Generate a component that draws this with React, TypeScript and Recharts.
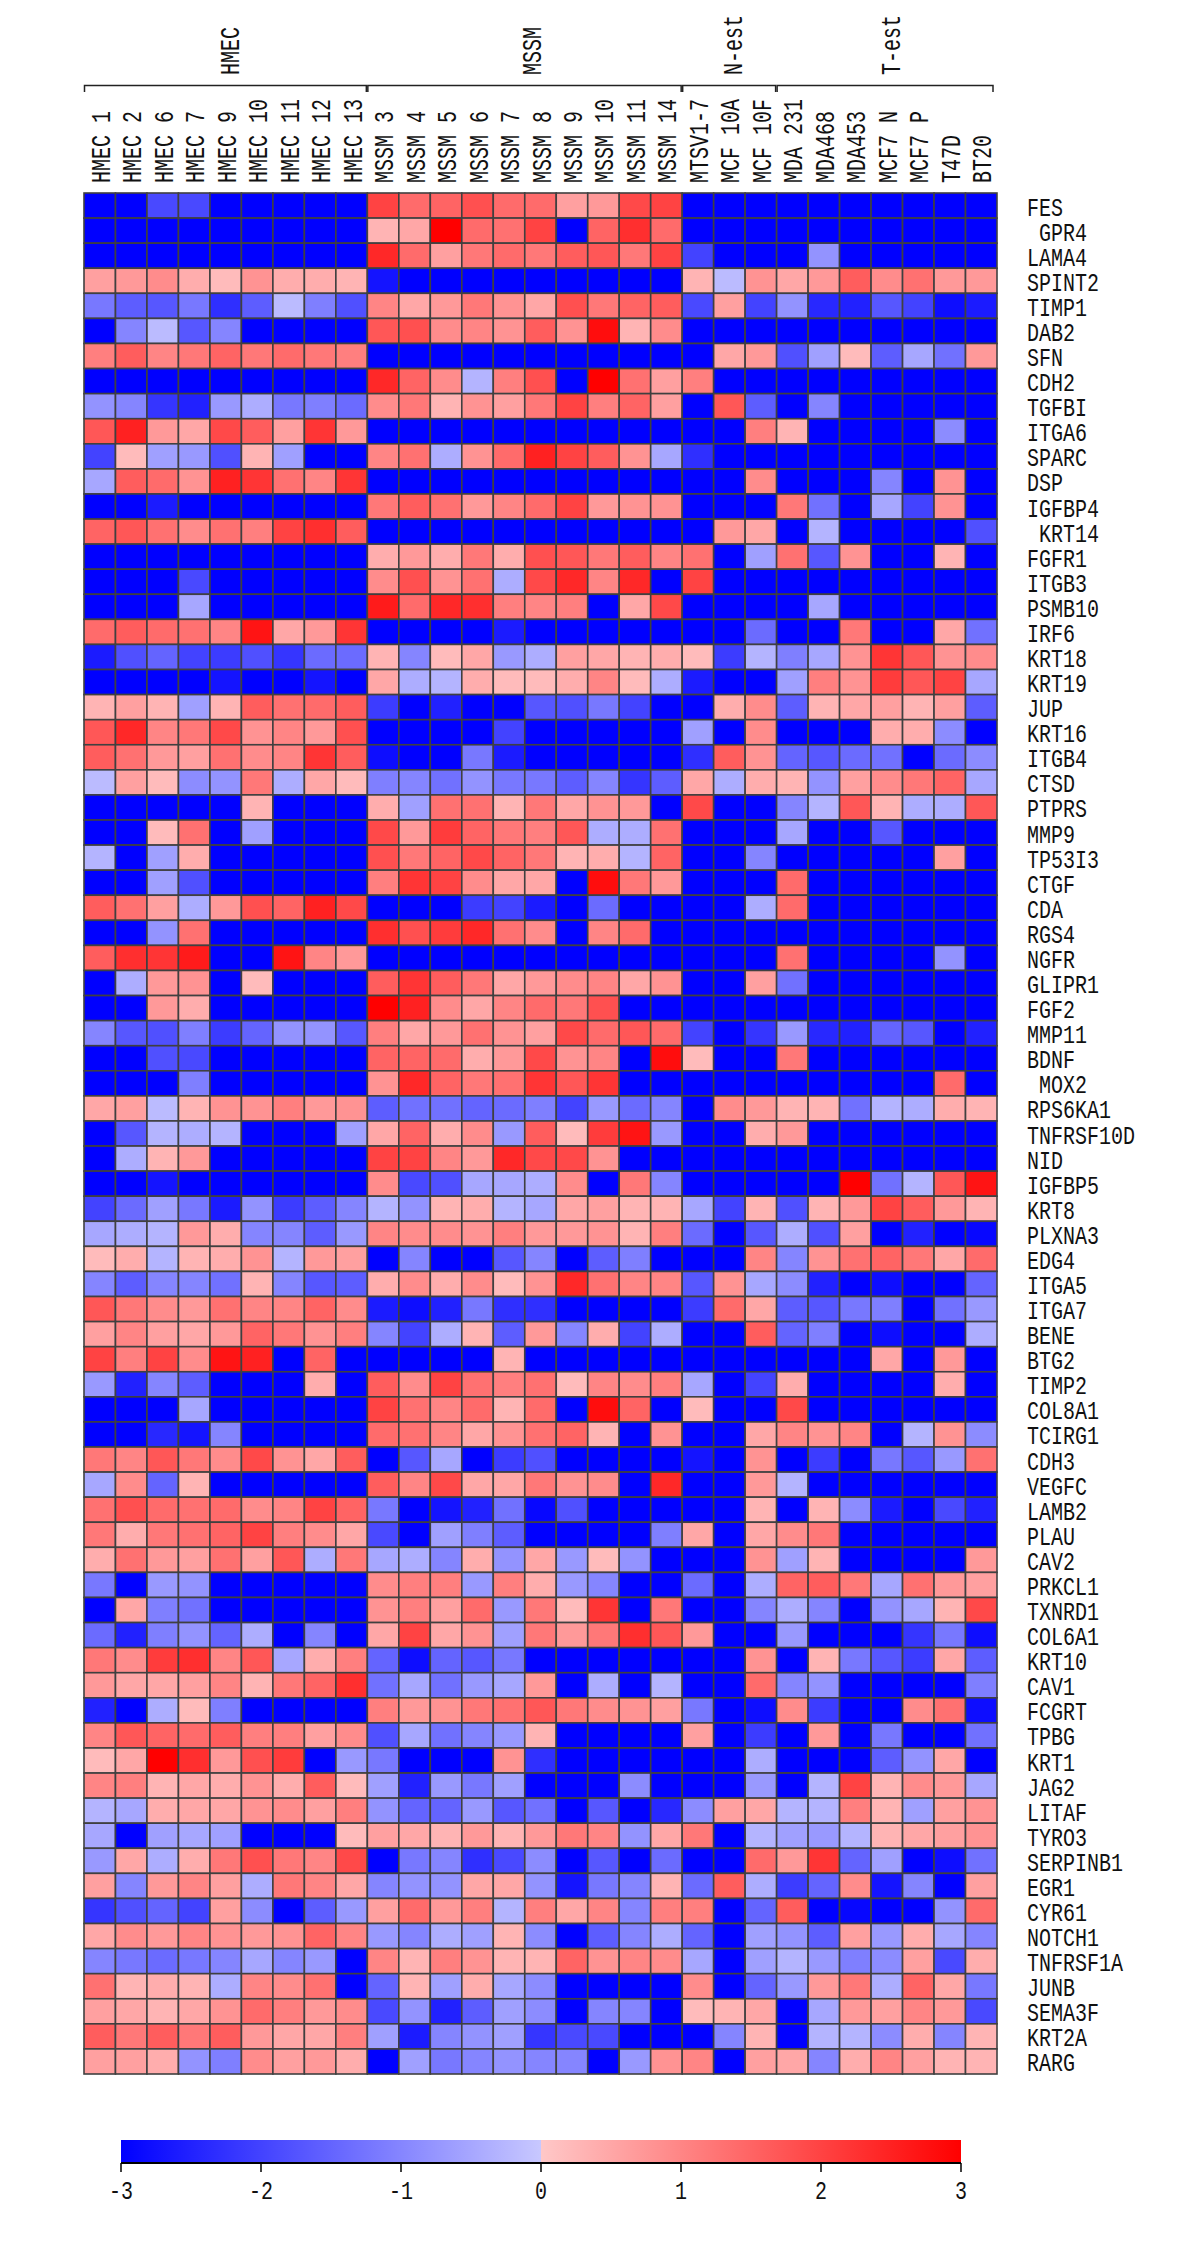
import React from 'react';
import { ScatterChart, Scatter, XAxis, YAxis, ReferenceArea } from 'recharts';

const sampleNames = [
  'HMEC 1', 'HMEC 2', 'HMEC 6', 'HMEC 7', 'HMEC 9', 'HMEC 10', 'HMEC 11', 'HMEC 12', 'HMEC 13',
  'MSSM 3', 'MSSM 4', 'MSSM 5', 'MSSM 6', 'MSSM 7', 'MSSM 8', 'MSSM 9', 'MSSM 10', 'MSSM 11', 'MSSM 14',
  'MTSV1-7', 'MCF 10A', 'MCF 10F',
  'MDA 231', 'MDA468', 'MDA453', 'MCF7 N', 'MCF7 P', 'T47D', 'BT20',
];

const groupNames = ['HMEC', 'MSSM', 'N-est', 'T-est'];
const groupSizes = [9, 10, 3, 7];

const geneNames = [
  'FES', ' GPR4', 'LAMA4', 'SPINT2', 'TIMP1', 'DAB2', 'SFN', 'CDH2', 'TGFBI', 'ITGA6',
  'SPARC', 'DSP', 'IGFBP4', ' KRT14', 'FGFR1', 'ITGB3', 'PSMB10', 'IRF6', 'KRT18', 'KRT19',
  'JUP', 'KRT16', 'ITGB4', 'CTSD', 'PTPRS', 'MMP9', 'TP53I3', 'CTGF', 'CDA', 'RGS4',
  'NGFR', 'GLIPR1', 'FGF2', 'MMP11', 'BDNF', ' MOX2', 'RPS6KA1', 'TNFRSF10D', 'NID', 'IGFBP5',
  'KRT8', 'PLXNA3', 'EDG4', 'ITGA5', 'ITGA7', 'BENE', 'BTG2', 'TIMP2', 'COL8A1', 'TCIRG1',
  'CDH3', 'VEGFC', 'LAMB2', 'PLAU', 'CAV2', 'PRKCL1', 'TXNRD1', 'COL6A1', 'KRT10', 'CAV1',
  'FCGRT', 'TPBG', 'KRT1', 'JAG2', 'LITAF', 'TYRO3', 'SERPINB1', 'EGR1', 'CYR61', 'NOTCH1',
  'TNFRSF1A', 'JUNB', 'SEMA3F', 'KRT2A', 'RARG',
];

// one row per gene, same order as geneNames; columns as in sampleNames
const expression = [
  [-3,-3,-1.9,-1.9,-3,-3,-3,-3,-3, 2,1.4,1.5,1.8,1.4,1.4,.6,.7,1.9,2, -3,-3,-3,-3,-3,-3,-3,-3,-3,-3],
  [-3,-3,-3,-3,-3,-3,-3,-3,-3, .3,.5,3,1.4,1.3,2,-3,1.5,2.3,1.4, -3,-3,-3,-3,-3,-3,-3,-3,-3,-3],
  [-3,-3,-3,-3,-3,-3,-3,-3,-3, 2.4,1.4,.6,1.2,1.4,1.2,1.6,1.7,1.2,2, -2,-3,-3,-3,-.8,-3,-3,-3,-3,-3],
  [.6,.7,.9,.4,.2,.8,.4,.4,.3, -2.7,-3,-3,-3,-3,-3,-3,-3,-3,-3, .3,-.2,.8,.5,.7,1.6,.9,1.3,.7,.7],
  [-1.2,-1.6,-1.7,-1.2,-2.3,-1.6,-.2,-1.1,-1.8, 1,.5,.7,1.2,.8,.5,1.8,1.2,1.5,1.6, -1.9,.6,-2,-.8,-2.4,-2.5,-1.7,-2,-2.8,-2.6],
  [-3,-1,-.2,-1.7,-1,-3,-3,-3,-3, 1.7,1.8,.9,1,.8,1.6,.8,2.8,.3,.9, -3,-3,-3,-3,-3,-3,-3,-3,-3,-3],
  [1.1,1.6,1,1.2,1.5,1.2,1.4,1.2,1.1, -3,-3,-3,-3,-3,-3,-3,-3,-3,-3, -3,.5,.7,-1.8,-.6,.2,-1.6,-.5,-1.3,.7],
  [-3,-3,-3,-3,-3,-3,-3,-3,-3, 2.4,1.5,.9,-.3,1.1,1.8,-3,3,1.3,.6, 1.1,-3,-3,-3,-3,-3,-3,-3,-3,-3],
  [-.8,-1,-2.2,-2.5,-.7,-.4,-1.2,-1.1,-1.4, .9,1.2,.3,.8,.6,1.2,2,1.1,1.5,.6, -3,1.7,-1.6,-3,-1,-3,-3,-3,-3,-3],
  [1.7,2.5,.7,.5,1.9,1.6,.6,2.2,.7, -3,-3,-3,-3,-3,-3,-3,-3,-3,-3, -3,-3,1.1,.3,-3,-3,-3,-3,-.9,-3],
  [-2,.2,-.6,-.7,-1.8,.3,-.6,-3,-3, 1,1.3,-.4,.8,1.4,2.5,2,1.6,.8,-.5, -2.3,-3,-3,-3,-3,-3,-3,-3,-3,-3],
  [-.5,1.6,1.4,.8,2.5,2.2,1.3,1,2.2, -3,-3,-3,-3,-3,-3,-3,-3,-3,-3, -3,-3,.9,-3,-3,-3,-1,-3,.8,-3],
  [-3,-3,-2.6,-3,-3,-3,-3,-3,-3, 1.2,1.6,1.3,.7,1,1.4,2,.7,.8,.8, -3,-3,-3,1.2,-1.3,-3,-.5,-2,.8,-3],
  [1.5,1.7,1.3,.9,1.3,1.1,2,2.3,1.6, -3,-3,-3,-3,-3,-3,-3,-3,-3,-3, -3,.7,.5,-3,-.3,-3,-3,-3,-3,-1.8],
  [-3,-3,-3,-3,-3,-3,-3,-3,-3, .4,.7,.4,1.2,.4,1.8,1.7,1.2,1.6,1, 1.3,-3,-.6,1.3,-1.7,.8,-3,-3,.3,-3],
  [-3,-3,-3,-1.9,-3,-3,-3,-3,-3, .9,1.8,.8,1.3,-.4,1.9,2.4,1,2.4,-3, 2,-3,-3,-3,-3,-3,-3,-3,-3,-3],
  [-3,-3,-3,-.5,-3,-3,-3,-3,-3, 2.6,1.4,2.4,2.3,1.1,1,1.1,-3,.5,1.9, -3,-3,-3,-3,-.5,-3,-3,-3,-3,-3],
  [1.4,1.6,1.4,1.3,1,2.7,.5,.7,2.2, -3,-3,-3,-3,-2.6,-3,-3,-3,-3,-3, -3,-3,-1.4,-3,-3,1.2,-3,-3,.5,-1.3],
  [-2.6,-1.8,-1.5,-2,-2.1,-1.8,-2.2,-1.4,-1.4, .3,-1,.2,.5,-.7,-.4,.6,.5,.3,.4, .2,-2.1,-.3,-1.1,-.5,.8,2.2,1.7,.8,.9],
  [-3,-3,-3,-3,-2.7,-3,-3,-2.7,-3, .5,-.4,-.3,.4,.2,.2,.4,1,.2,-.4, -2.6,-3,-3,-.6,1.1,.8,2.1,1.7,2,-.5],
  [.3,.6,.3,-.6,.3,1.6,1.3,1.4,1.6, -2.1,-3,-2.5,-3,-3,-1.7,-1.8,-1.2,-2,-3, -3,.4,.9,-1.6,.3,.5,.6,.3,.6,-1.6],
  [1.7,2.4,1,1.2,1.9,.8,1,.7,1.8, -3,-3,-3,-3,-2,-3,-3,-3,-3,-3, -.6,-3,.9,-3,-3,-3,.4,.4,-.9,-3],
  [1.6,1.3,.7,.6,1.3,.9,1,2.2,1.6, -2.8,-3,-3,-1.2,-2.6,-3,-3,-3,-3,-3, -2.3,1.6,.8,-1.5,-1.7,-1.4,-1.3,-3,-1.4,-.9],
  [-.2,.6,.2,-.9,-.8,1.2,-.4,.5,.2, -1.1,-1,-1.3,-.8,-1.2,-1.2,-1.6,-1,-2.2,-1.6, .5,-.4,.4,.3,-.8,.6,.9,1.2,1.5,-.5],
  [-3,-3,-3,-3,-3,.3,-3,-3,-3, .4,-.6,1.3,1.3,.3,1.2,.5,.8,.7,-3, 1.9,-3,-3,-1,-.3,1.7,.3,-.4,-.4,1.7],
  [-3,-3,.2,1.3,-3,-.6,-3,-3,-3, 1.9,.7,2.1,1.5,1.2,1.1,1.7,-.4,-.4,1.3, -3,-3,-3,-.5,-3,-3,-1.7,-3,-3,-3],
  [-.3,-3,-.6,.4,-3,-3,-3,-3,-3, 1.8,1.2,1.5,1.9,1.5,1.2,.3,.4,-.3,1.5, -3,-3,-1,-3,-3,-3,-3,-3,.6,-3],
  [-3,-3,-.6,-1.8,-3,-3,-3,-3,-3, 1.1,2.2,2,.9,.5,.5,-3,2.8,1.2,.7, -3,-3,-3,1.4,-3,-3,-3,-3,-3,-3],
  [1.6,1.3,.6,-.4,.7,1.8,1.5,2.5,1.9, -3,-3,-3,-2.1,-2,-2.6,-3,-1.4,-3,-3, -3,-3,-.4,1.4,-3,-3,-3,-3,-3,-3],
  [-3,-3,-.8,1.3,-3,-3,-3,-3,-3, 2.3,1.8,2.1,2.4,1.3,.9,-3,1,1.4,-3, -3,-3,-3,-3,-3,-3,-3,-3,-3,-3],
  [1.6,2.3,2.2,2.6,-3,-3,2.7,1,.7, -3,-3,-3,-3,-3,-3,-3,-3,-3,-3, -3,-3,-3,1.3,-3,-3,-3,-3,-.8,-3],
  [-3,-.4,.7,.8,-3,.2,-3,-3,-3, 1.6,2.2,1.6,1.2,.5,.7,.9,1,.5,.8, -3,-3,.6,-1.3,-3,-3,-3,-3,-3,-3],
  [-3,-3,.7,.4,-3,-3,-3,-3,-3, 3,2.5,.9,.5,1,1.4,1.2,1.8,-3,-3, -3,-3,-3,-3,-3,-3,-3,-3,-3,-3],
  [-1,-1.7,-1.8,-1.1,-2.1,-1.5,-.8,-.8,-1.7, 1.1,.5,.7,1.3,.8,.6,1.9,1.4,1.7,1.4, -2,-3,-2.2,-.7,-2.4,-2.5,-1.5,-1.7,-3,-2.5],
  [-3,-3,-1.8,-1.9,-3,-3,-3,-3,-3, 1.5,1.5,1.4,.4,.7,1.9,.8,1,-3,2.8, .2,-3,-3,1.2,-3,-3,-3,-3,-3,-3],
  [-3,-3,-3,-1.1,-3,-3,-3,-3,-3, .8,2.4,1.5,1.2,1.3,2.2,1.7,2.2,-3,-3, -3,-3,-3,-3,-3,-3,-3,-3,1.4,-3],
  [.5,.6,-.2,.3,.8,.8,1.1,.7,.8, -1.6,-1.3,-1.3,-1.5,-1.4,-1.1,-2,-.7,-1.4,-1, -3,.9,.7,.3,.3,-1.3,-.3,-.4,.4,.3],
  [-3,-1.7,-.3,-.4,-.3,-3,-3,-3,-.6, .5,1.5,.4,.9,-.7,1.6,.2,2.1,2.7,-.7, -3,-3,.4,.7,-3,-3,-3,-3,-3,-3],
  [-3,-.4,.3,.7,-3,-3,-3,-3,-3, 2,2,1,.7,2.4,1.9,1.9,.8,-3,-3, -3,-3,-3,-3,-3,-3,-3,-3,-3,-3],
  [-3,-3,-2.7,-3,-3,-3,-3,-3,-3, .9,-1.9,-1.8,-.5,-.5,-.4,.9,-3,1.2,-1, -3,-3,-3,-3,-3,3,-1.3,-.3,1.7,2.7],
  [-2,-1.4,-.6,-1.2,-2.6,-.8,-2.1,-1.6,-1, -.3,-.8,.3,.4,-.3,-.5,.5,.6,.3,.3, -.5,-2,.3,-1.8,.3,.7,2,1.6,.7,.3],
  [-.5,-.4,-.3,.7,.4,-1,-1,-1.6,-.7, 1,.9,.9,.8,1.1,.7,.7,.8,.3,1.1, -1.4,-3,-1.7,-.4,-1.8,.6,-3,-2.5,-3,-2.9],
  [.2,.4,-.3,.3,.4,.8,-.3,.7,.6, -3,-1,-3,-3,-1.7,-1,-3,-1.6,-1.1,-3, -3,-3,1,-1,.8,1.3,1.5,1.2,.5,1.4],
  [-1,-1.6,-1,-1,-1.3,.3,-1,-1.7,-1.6, .4,.9,.4,.9,.2,.8,2.4,1.3,1,1, -1.7,.8,-.5,-.9,-2.5,-3,-2.8,-3,-3,-1.5],
  [1.7,1.2,.9,.7,1.3,1,1,1.5,.9, -2.6,-2.8,-2.5,-1.2,-2.3,-2.3,-3,-3,-3,-3, -2.1,1.4,.5,-1.6,-1.7,-1.2,-1.1,-3,-1.3,-.7],
  [.6,1,.6,.5,.7,1.5,1.2,.8,1.1, -1,-2,-.4,.3,-1.6,.7,-1,.4,-2,-.4, -3,-3,1.6,-1.5,-1.1,-3,-2.8,-3,-3,-.4],
  [2,1.1,2,.9,2.7,2.5,-3,1.5,-3, -3,-3,-3,-3,.3,-3,-3,-3,-3,-3, -3,-3,-3,-3,-3,-3,.5,-3,.7,-3],
  [-.7,-2.5,-1,-1.6,-3,-3,-3,.4,-3, 1.6,.9,2,1.3,1.1,1.3,.2,1,.9,1.1, -.5,-3,-2,.4,-3,-3,-3,-3,.4,-3],
  [-3,-3,-3,-.5,-3,-3,-3,-3,-3, 2,1.3,1,1.4,.3,1.4,-3,2.8,1.5,-3, .2,-3,-3,1.9,-3,-3,-3,-3,-3,-3],
  [-3,-3,-2.4,-2.7,-1,-3,-3,-3,-3, 1.4,1.3,1,.5,.8,1.3,1.5,.3,-3,.8, -3,-3,.5,1,.8,1,-3,-.3,.8,-.9],
  [1.2,1,1.7,1.2,.9,1.9,.8,.5,1.6, -3,-1.7,-.5,-3,-2.1,-1.8,-3,-3,-3,-3, -2.7,-3,.8,-3,-2.1,-3,-1.2,-1.7,-.7,1.3],
  [-.5,.9,-1.5,.3,-3,-3,-3,-3,-3, 1.6,1,1.9,.5,.5,1.2,.8,.9,-3,2.4, -3,-3,.7,-.3,-3,-3,-3,-3,-3,-3],
  [1.3,1.8,1.4,1.3,1.4,.9,1,2,1.5, -1.2,-3,-2.7,-2.5,-1.3,-2.9,-1.8,-3,-3,-3, -3,-3,.3,-3,.3,-.9,-2.6,-3,-1.9,-2.5],
  [1.2,.4,1.2,1.3,1.5,2,1.1,.9,.5, -1.9,-3,-.6,-1.1,-1.6,-3,-3,-3,-3,-1.1, .5,-3,.5,.9,1.2,-3,-3,-3,-3,-3],
  [.4,1.3,.7,.6,1.3,.6,1.7,-.4,1.2, -.5,-.4,-1,.4,-.8,.5,-.7,.2,-.8,-3, -3,-3,.8,-.6,.3,-3,-3,-3,-3,.7],
  [-1.2,-3,-.7,-.8,-3,-3,-3,-3,-3, .9,1.1,1.1,-.7,1.1,.4,-.7,-1,-3,-3, -1.4,-3,-.4,1.5,1.6,1.2,-.5,1.3,.7,.6],
  [-3,.5,-1.1,-1.3,-3,-3,-3,-3,-3, .8,1.1,.6,1.4,-.7,1.2,.2,2.2,-3,1.2, -3,-3,-1,-.4,-1,-3,-.8,-.5,.3,1.9],
  [-1.4,-2.5,-1.1,-.8,-1.5,-.4,-3,-1,-3, .5,2,.5,.8,-.6,1.2,.7,1.2,2.3,1.7, .7,-3,-3,-.7,-3,-3,-3,-2.2,-1.2,-2.8],
  [1.2,.9,2.1,2.3,1,1.7,-.5,.4,1.1, -1.5,-2.8,-1.5,-1.7,-1.2,-3,-3,-3,-3,-3, -3,-3,.8,-3,.3,-1.2,-1.7,-2.1,.5,-1.6],
  [.7,.5,.5,.6,1,.3,1.2,1.5,2.3, -1.3,-.5,-1.3,-.7,-.5,.7,-3,-.4,-3,-.3, -3,-3,1.4,-1,-.8,-3,-3,-3,-3,-1.1],
  [-2.5,-3,-.4,.2,-1.1,-3,-3,-3,-3, 1.1,.7,.8,1.2,1.3,1.7,1.2,.9,.8,.6, -1.2,-3,-2.8,.9,-2.1,-3,-3,.9,1.3,-2.8],
  [1,1.7,1.5,1.4,1.6,1.1,1.1,.6,.9, -1.8,-.5,-1.3,-1,-.7,.3,-3,-3,-3,-3, .6,-3,-2.1,-3,.7,-3,-1.2,-3,-3,-1.3],
  [.2,.5,3,2.3,.7,1.8,2.1,-3,-.7, -1.2,-3,-3,-3,.8,-2.3,-3,-3,-3,-3, -3,-3,-.4,-3,-3,-3,-1.6,-.8,.5,-3],
  [1,1.1,.3,.5,.4,.8,.4,1.6,.2, -.6,-2.5,-.7,-1.2,-.6,-3,-3,-3,-.9,-3, -3,-3,-.7,-3,-.3,2,.3,.9,.7,-.5],
  [-.3,-.5,.4,.5,.5,.8,.9,.6,1.1, -.8,-1.5,-1.5,-.7,-1.7,-1.3,-3,-1.7,-3,-2.4, -.9,.6,.5,-.3,-.3,1.1,.3,-.6,.6,.8],
  [-.5,-3,-.6,-.5,-.6,-3,-3,-3,.2, .6,.5,.3,.7,.3,.7,1.2,1,-.8,.5, 1.2,-3,-.3,-.6,-.7,-.3,.3,.5,.6,.8],
  [-.7,.5,-.4,.4,1.2,1.8,1.2,1,1.9, -3,-1.2,-1,-2.3,-1.9,-.9,-3,-1.7,-3,-1.4, -3,-3,1.4,.7,2.2,-1.5,-.6,-3,-2.8,-1.3],
  [.6,-1,.7,1,.6,-.4,1.2,1,.5, -1,-.8,-.8,.5,.5,-.8,-2.7,-1.2,-1,.3, -1.4,1.6,-.4,-2.1,-1.5,.9,-2.7,-1,-3,.6],
  [-2.2,-1.8,-1.5,-2,.6,-.9,-3,-1.6,-.7, .6,1.4,.7,1.1,-.3,1.1,.5,1,-1,1.1, 1.1,-3,-1.5,1.6,-3,-2.9,-3,-3,-.8,1.4],
  [.5,.9,.7,1,.8,.7,.8,1.5,1, -.7,-1,-.4,-.6,.3,-.9,-3,-1.6,-1,-.4, -1.5,-3,-.6,-.8,-1.6,.6,-.7,.4,-.5,-1],
  [-1,-1.2,-1.4,-1.2,-1,-.5,-1,-.7,-3, 1,.3,1.1,.8,.3,.3,1.5,.8,1,.9, -.5,-3,-.6,-.3,-.7,-1.1,-.9,.6,-1.9,.4],
  [1.3,.3,.4,.3,-.4,1,.9,1.3,-3, -1.5,.3,-.6,.4,-.5,-.9,-3,-3,-3,-3, .9,-3,-1.5,-.7,.7,1.2,-.4,1.5,.5,-1.2],
  [.6,.5,.3,.5,.8,1.4,1.1,.7,.9, -1.9,-.8,-2.5,-1.6,-.6,-.9,-3,-1,-1,-3, .2,.3,.5,-3,-.5,.7,.6,1,.7,-1.9],
  [1.6,1.2,1.6,1.2,1.6,.7,.5,.5,1.1, -.6,-2.6,-1,-.8,-.6,-2.2,-1.9,-1.9,-3,-3, -3,-1,.3,-3,-.3,-.3,-.9,.4,-1,.3],
  [.6,.6,.4,-.8,-1.1,.9,.6,.7,.4, -3,-.6,-1.2,-1,-.8,-1,-1,-3,-.7,.8, 1,-3,.6,.5,-1,.4,1,.6,.3,.3],
];

const colorbarTicks = [-3, -2, -1, 0, 1, 2, 3];
const colorbarEnds = [{ v: -3, y: 0 }, { v: 3, y: 1 }];

const PLOT_LEFT = 84;
const PLOT_RIGHT = 997;
const PLOT_TOP = 193;
const PLOT_BOTTOM = 2074;
const cellW = (PLOT_RIGHT - PLOT_LEFT) / sampleNames.length;
const cellH = (PLOT_BOTTOM - PLOT_TOP) / geneNames.length;
const FONT = '"Liberation Mono", monospace';
// group titles are not quite centred over their brackets in the original
const groupLabelShift = [13.5, 16.5, 13, 13.5];

// blue/red ramp with a jump at zero, as in the colour bar
const valueColor = (v: number) => {
  const t = Math.round(200 * (1 - Math.abs(v) / 3));
  return v < 0 ? `rgb(${t},${t},255)` : `rgb(255,${t},${t})`;
};

const cells = expression.flatMap((row, r) =>
  row.map((value, c) => ({ col: c + 0.5, row: r + 0.5, value }))
);

const sampleTicks = sampleNames.map((_, i) => i + 0.5);
const geneTicks = geneNames.map((_, i) => i + 0.5);
const groupStarts = groupSizes.map((_, i) => groupSizes.slice(0, i).reduce((a, b) => a + b, 0));
const groupTicks = groupStarts.map((s, i) => s + groupSizes[i] / 2);
const groupAnchors = groupTicks.map((g) => ({ group: g, row: 0.5 }));

const HeatCell = (props: any) => (
  <rect
    x={props.cx - cellW / 2}
    y={props.cy - cellH / 2}
    width={cellW}
    height={cellH}
    fill={valueColor(props.payload.value)}
    stroke="#404040"
    strokeWidth={1.6}
  />
);

const NoMark = () => null;

const SampleTick = ({ x, payload }: any) => (
  <text
    transform={`translate(${x + 10},183) rotate(-90) scale(1,1.35)`}
    fontFamily={FONT}
    fontSize={20}
    fill="#111"
  >
    {sampleNames[Math.floor(payload.value)]}
  </text>
);

const GroupTick = ({ x, payload }: any) => {
  const i = groupTicks.indexOf(payload.value);
  const half = (groupSizes[i] * cellW) / 2;
  const right = i === groupNames.length - 1 ? half - 4 : half - 1;
  return (
    <g>
      <path
        d={`M${x - half + 0.5},92 V85.5 H${x + right} V92`}
        fill="none"
        stroke="#222"
        strokeWidth={1.5}
      />
      <text
        transform={`translate(${x + groupLabelShift[i]},75) rotate(-90) scale(1,1.35)`}
        fontFamily={FONT}
        fontSize={20}
        fill="#111"
      >
        {groupNames[i]}
      </text>
    </g>
  );
};

const GeneTick = ({ y, payload }: any) => (
  <text
    transform={`translate(1027,${y + 10}) scale(1,1.3)`}
    fontFamily={FONT}
    fontSize={20}
    fill="#111"
    style={{ whiteSpace: 'pre' }}
  >
    {geneNames[Math.floor(payload.value)]}
  </text>
);

const ColorbarTick = ({ x, y, payload }: any) => (
  <text
    transform={`translate(${x},${y + 25}) scale(1,1.3)`}
    textAnchor="middle"
    fontFamily={FONT}
    fontSize={20}
    fill="#111"
  >
    {payload.value}
  </text>
);

const App = () => {
  return (
    <div style={{ position: 'absolute', left: 0, top: 0, width: 1200, height: 2250, background: '#fff' }}>
      <div style={{ position: 'absolute', left: 0, top: 0 }}>
        <ScatterChart
          width={1200}
          height={2250 - 170}
          margin={{ top: 0, right: 0, left: PLOT_LEFT, bottom: 6 }}
        >
          <XAxis
            xAxisId="samples"
            type="number"
            dataKey="col"
            orientation="top"
            domain={[0, sampleNames.length]}
            ticks={sampleTicks}
            interval={0}
            height={100}
            tick={SampleTick}
            tickLine={false}
            axisLine={false}
          />
          <XAxis
            xAxisId="groups"
            type="number"
            dataKey="group"
            orientation="top"
            domain={[0, sampleNames.length]}
            ticks={groupTicks}
            interval={0}
            height={PLOT_TOP - 100}
            tick={GroupTick}
            tickLine={false}
            axisLine={false}
          />
          <YAxis
            type="number"
            dataKey="row"
            orientation="right"
            reversed
            domain={[0, geneNames.length]}
            ticks={geneTicks}
            interval={0}
            width={1200 - PLOT_RIGHT}
            tick={GeneTick}
            tickLine={false}
            axisLine={false}
          />
          <Scatter xAxisId="samples" data={cells} shape={HeatCell} isAnimationActive={false} />
          <Scatter xAxisId="groups" data={groupAnchors} shape={NoMark} isAnimationActive={false} />
        </ScatterChart>
      </div>
      <div style={{ position: 'absolute', left: 0, top: 2140 }}>
        <ScatterChart
          width={1200}
          height={75}
          margin={{ top: 0, right: 239, left: 121, bottom: 0 }}
        >
          <defs>
            <linearGradient id="expressionRamp" x1="0" x2="1" y1="0" y2="0">
              <stop offset="0%" stopColor="#0000ff" />
              <stop offset="50%" stopColor="#c8c8ff" />
              <stop offset="50%" stopColor="#ffc8c8" />
              <stop offset="100%" stopColor="#ff0000" />
            </linearGradient>
          </defs>
          <XAxis
            type="number"
            dataKey="v"
            domain={[-3, 3]}
            ticks={colorbarTicks}
            interval={0}
            height={52}
            tick={ColorbarTick}
            tickLine={{ stroke: '#000', strokeWidth: 1.5 }}
            tickSize={9}
            axisLine={{ stroke: '#000', strokeWidth: 2 }}
          />
          <YAxis type="number" dataKey="y" domain={[0, 1]} hide />
          <ReferenceArea x1={-3} x2={3} y1={0} y2={1} fill="url(#expressionRamp)" fillOpacity={1} stroke="none" />
          <Scatter data={colorbarEnds} shape={NoMark} isAnimationActive={false} />
        </ScatterChart>
      </div>
    </div>
  );
};

export default App;
